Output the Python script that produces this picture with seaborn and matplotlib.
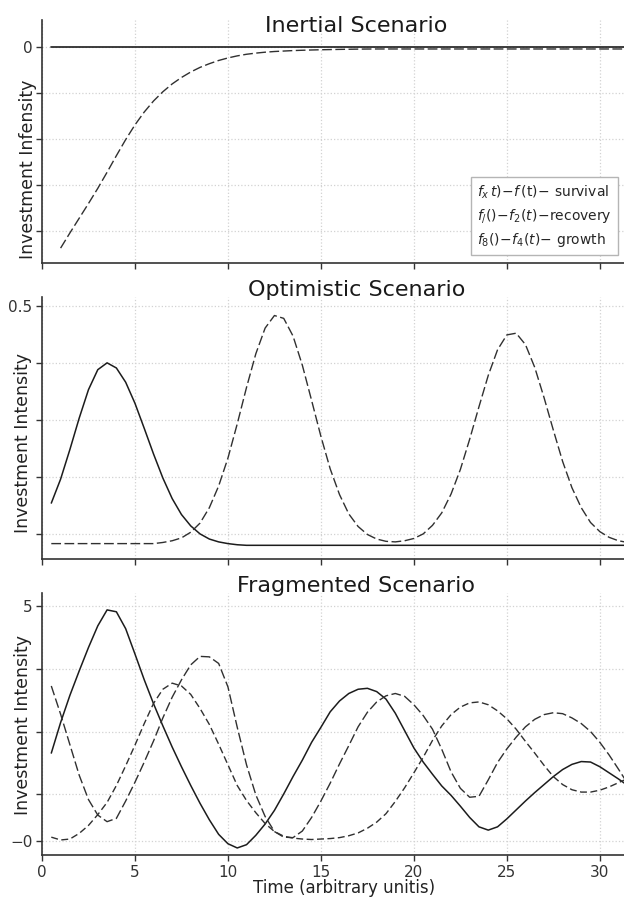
import numpy as np
import matplotlib
matplotlib.use("Agg")
import matplotlib.pyplot as plt
from matplotlib.lines import Line2D
import seaborn as sns

# time grid (arbitrary units), values every 0.5
t = np.arange(0.5, 32.0, 0.5)

# --- Inertial scenario ---
inertial_flat = [0.0] * 63
# dashed curve starts at t = 1.0
inertial_rise = [
    -4.37, -4.04, -3.72, -3.40, -3.07, -2.72, -2.36, -2.01, -1.69,
    -1.41, -1.17, -0.97, -0.80, -0.66, -0.54, -0.44, -0.36, -0.29, -0.235,
    -0.19, -0.155, -0.13, -0.11, -0.095, -0.085, -0.075, -0.068, -0.062, -0.057,
    -0.053, -0.049, -0.046, -0.043, -0.041, -0.04, -0.04, -0.04, -0.04, -0.04,
    -0.04, -0.04, -0.04, -0.04, -0.04, -0.04, -0.04, -0.04, -0.04, -0.04,
    -0.04, -0.04, -0.04, -0.04, -0.04, -0.04, -0.04, -0.04, -0.04, -0.04,
    -0.04, -0.04, -0.04,
]

# --- Optimistic scenario ---
optimistic_solid = [
    0.154, 0.196, 0.248, 0.303, 0.353, 0.388, 0.400, 0.391, 0.366, 0.329,
    0.285, 0.240, 0.198, 0.162, 0.134, 0.114, 0.100, 0.091, 0.086, 0.083,
    0.081, 0.080, 0.080, 0.080, 0.080, 0.080, 0.080, 0.080, 0.080, 0.080,
    0.080, 0.080, 0.080, 0.080, 0.080, 0.080, 0.080, 0.080, 0.080, 0.080,
    0.080, 0.080, 0.080, 0.080, 0.080, 0.080, 0.080, 0.080, 0.080, 0.080,
    0.080, 0.080, 0.080, 0.080, 0.080, 0.080, 0.080, 0.080, 0.080, 0.080,
    0.080, 0.080, 0.080,
]
optimistic_dashed = [
    0.083, 0.083, 0.083, 0.083, 0.083, 0.083, 0.083, 0.083, 0.083, 0.083,
    0.083, 0.083, 0.085, 0.088, 0.093, 0.103, 0.119, 0.146, 0.184, 0.233,
    0.293, 0.357, 0.416, 0.461, 0.483, 0.478, 0.447, 0.396, 0.334, 0.271,
    0.214, 0.169, 0.135, 0.113, 0.099, 0.091, 0.087, 0.086, 0.088, 0.092,
    0.100, 0.115, 0.137, 0.170, 0.213, 0.266, 0.323, 0.378, 0.423, 0.449,
    0.452, 0.432, 0.392, 0.339, 0.282, 0.227, 0.181, 0.146, 0.120, 0.104,
    0.094, 0.088, 0.085,
]

# --- Fragmented scenario ---
fragmented_solid = [
    1.87, 2.52, 3.10, 3.62, 4.12, 4.58, 4.92, 4.88, 4.52, 3.98,
    3.43, 2.92, 2.45, 2.00, 1.58, 1.18, 0.80, 0.45, 0.14, -0.06,
    -0.15, -0.08, 0.12, 0.36, 0.65, 1.00, 1.37, 1.72, 2.10, 2.42,
    2.75, 2.98, 3.14, 3.23, 3.25, 3.18, 3.02, 2.72, 2.35, 1.98,
    1.68, 1.42, 1.17, 0.97, 0.74, 0.50, 0.30, 0.23, 0.30, 0.47,
    0.66, 0.85, 1.03, 1.20, 1.37, 1.52, 1.63, 1.69, 1.68, 1.58,
    1.45, 1.32, 1.18,
]
fragmented_dash_a = [
    3.30, 2.70, 2.05, 1.40, 0.88, 0.55, 0.41, 0.48, 0.85, 1.25,
    1.68, 2.13, 2.62, 3.06, 3.43, 3.75, 3.93, 3.92, 3.78, 3.28,
    2.42, 1.62, 0.98, 0.52, 0.20, 0.08, 0.07, 0.21, 0.50, 0.85,
    1.23, 1.64, 2.03, 2.43, 2.74, 2.96, 3.09, 3.14, 3.08, 2.90,
    2.67, 2.38, 1.95, 1.47, 1.12, 0.93, 0.95, 1.30, 1.67, 1.96,
    2.21, 2.43, 2.59, 2.69, 2.73, 2.71, 2.62, 2.50, 2.33, 2.10,
    1.83, 1.53, 1.22,
]
fragmented_dash_b = [
    0.08, 0.02, 0.04, 0.16, 0.33, 0.56, 0.82, 1.18, 1.60, 2.04,
    2.50, 2.93, 3.23, 3.36, 3.30, 3.12, 2.82, 2.48, 2.06, 1.62,
    1.18, 0.86, 0.60, 0.37, 0.20, 0.10, 0.06, 0.04, 0.03, 0.04,
    0.05, 0.07, 0.11, 0.17, 0.27, 0.40, 0.58, 0.84, 1.13, 1.45,
    1.78, 2.14, 2.45, 2.69, 2.85, 2.94, 2.96, 2.90, 2.77, 2.60,
    2.38, 2.12, 1.87, 1.61, 1.37, 1.20, 1.09, 1.04, 1.04, 1.08,
    1.15, 1.24, 1.33,
]

legend_labels = [
    r"$f_{x}\,t)\!-\!f\,(\mathrm{t})\!-\!$ survival",
    r"$f_{/}()\!-\!f_{2}(t)\!-\!$recovery",
    r"$f_{8}()\!-\!f_{4}(t)\!-\!$ growth",
]

sns.set_theme(style="whitegrid", rc={
    "grid.color": "#d2d2d2",
    "grid.linestyle": ":",
    "grid.linewidth": 0.9,
    "axes.edgecolor": "#333333",
    "axes.linewidth": 1.2,
    "xtick.bottom": True,
    "ytick.left": True,
    "xtick.color": "#333333",
    "ytick.color": "#333333",
    "xtick.major.size": 4,
    "ytick.major.size": 4,
    "xtick.major.width": 1.0,
    "ytick.major.width": 1.0,
})
plt.rcParams["font.family"] = ["DejaVu Sans"]

SOLID = "#1c1c1c"
DASH = "#303030"

fig = plt.figure(figsize=(6.24, 8.99), dpi=100)
left, width = 42 / 624, 582 / 624
ax1 = fig.add_axes([left, 1 - 263.3 / 899, width, 243.3 / 899])
ax2 = fig.add_axes([left, 1 - 559 / 899, width, 262.3 / 899], sharex=ax1)
ax3 = fig.add_axes([left, 1 - 855 / 899, width, 262 / 899], sharex=ax1)

line_kw = dict(errorbar=None, solid_joinstyle="round", dash_joinstyle="round")

# inertial
sns.lineplot(x=t, y=inertial_flat, ax=ax1, color=SOLID, linewidth=1.2, **line_kw)
sns.lineplot(x=t[1:], y=inertial_rise, ax=ax1, color=DASH, linewidth=1.0,
             linestyle=(0, (7, 2.5)), **line_kw)

# optimistic
sns.lineplot(x=t, y=optimistic_solid, ax=ax2, color=SOLID, linewidth=1.1, **line_kw)
sns.lineplot(x=t, y=optimistic_dashed, ax=ax2, color=DASH, linewidth=1.0,
             linestyle=(0, (7, 2.5)), **line_kw)

# fragmented
sns.lineplot(x=t, y=fragmented_solid, ax=ax3, color=SOLID, linewidth=1.1, **line_kw)
sns.lineplot(x=t, y=fragmented_dash_a, ax=ax3, color=DASH, linewidth=1.0,
             linestyle=(0, (7, 2.5)), **line_kw)
sns.lineplot(x=t, y=fragmented_dash_b, ax=ax3, color=DASH, linewidth=1.0,
             linestyle=(0, (5, 2.5)), **line_kw)

ax1.set_xlim(0, 31.3)
ax1.set_xticks([0, 5, 10, 15, 20, 25, 30])

ax1.set_ylim(-4.70, 0.59)
ax1.set_yticks([-4, -3, -2, -1, 0])
ax1.set_yticklabels(["", "", "", "", "0"])

ax2.set_ylim(0.056, 0.516)
ax2.set_yticks([0.1, 0.2, 0.3, 0.4, 0.5])
ax2.set_yticklabels(["", "", "", "", "0.5"])

ax3.set_ylim(-0.30, 5.28)
ax3.set_yticks([0, 1, 2.33, 3.67, 5])
ax3.set_yticklabels(["\u22120", "", "", "", "5"])

titles = ["Inertial Scenario", "Optimistic Scenario", "Fragmented Scenario"]
pads = [-8.6, 0.5, 0.5]
ylabels = ["Investment Infensity", "Investment Intensity", "Investment Intensity"]
label_pos = [(-0.009, 0.387), (-0.017, 0.442), (-0.017, 0.496)]

for ax, title, pad, yl, pos in zip([ax1, ax2, ax3], titles, pads, ylabels, label_pos):
    ax.set_title(title, fontsize=16, x=0.54, y=1.0, pad=pad, color="#1a1a1a")
    ax.set_ylabel(yl, fontsize=12.5, color="#222222")
    ax.yaxis.set_label_coords(*pos)
    ax.tick_params(axis="both", labelsize=11, pad=3)
    ax.set_xlabel("")

ax1.tick_params(labelbottom=False)
ax2.tick_params(labelbottom=False)
ax3.set_xlabel("Time (arbitrary unitis)", fontsize=12, color="#222222")
ax3.xaxis.set_label_coords(0.519, -0.09)

sns.despine(fig=fig)

handles = [Line2D([], [], linestyle="none")] * 3
ax1.legend(handles, legend_labels, loc="lower left", bbox_to_anchor=(0.737, 0.033),
           borderaxespad=0, handlelength=0, handletextpad=0, fontsize=10,
           frameon=True, framealpha=1, edgecolor="#b5b5b5", fancybox=False,
           borderpad=0.45, labelspacing=0.45)

fig.savefig("out.png", dpi=100)
